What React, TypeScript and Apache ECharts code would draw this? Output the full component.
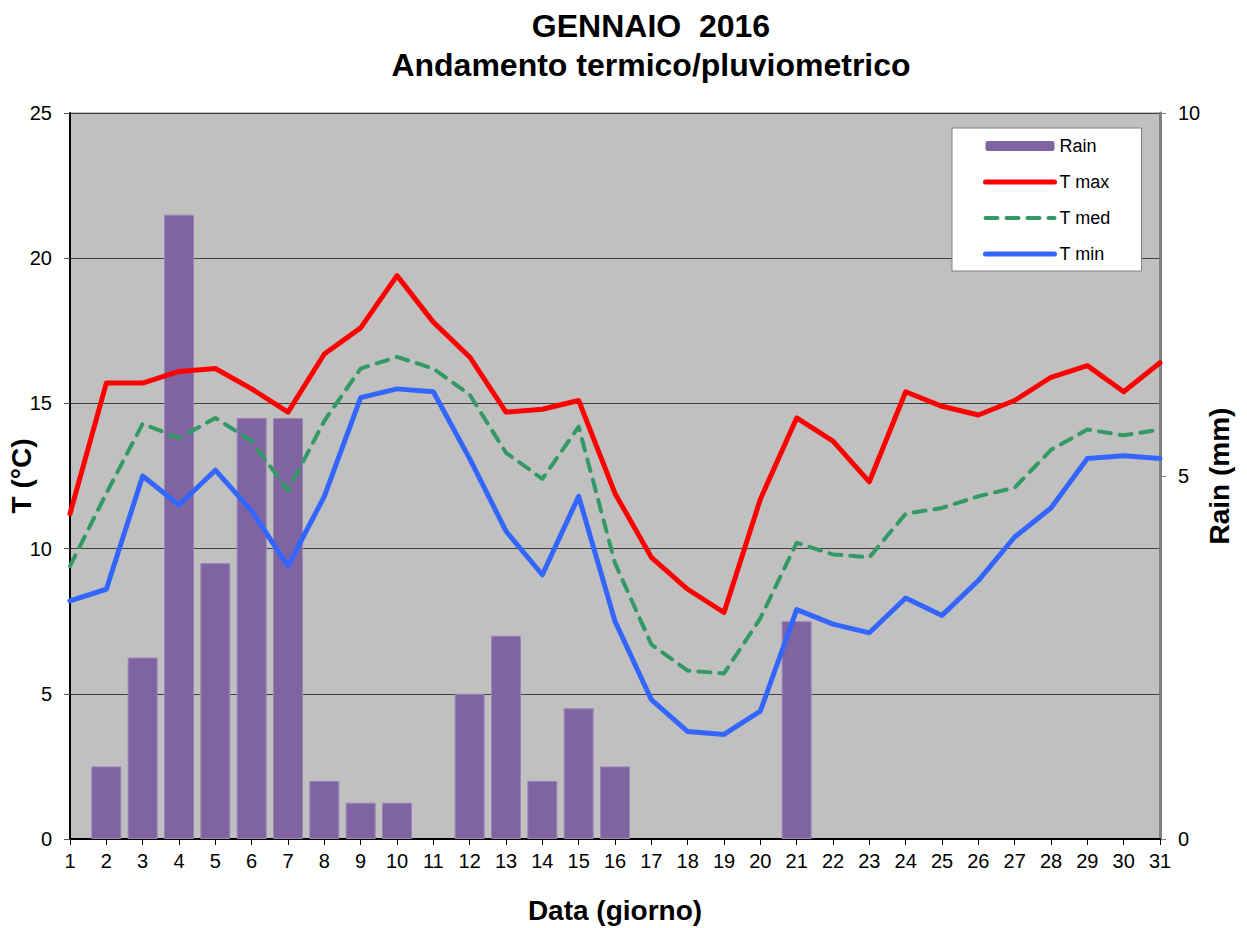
import React, { useEffect, useRef } from "react";
import * as echarts from "echarts";

const days = [1,2,3,4,5,6,7,8,9,10,11,12,13,14,15,16,17,18,19,20,21,22,23,24,25,26,27,28,29,30,31];
const rain = [null,1.0,2.5,8.6,3.8,5.8,5.8,0.8,0.5,0.5,null,2.0,2.8,0.8,1.8,1.0,null,null,null,null,3.0,null,null,null,null,null,null,null,null,null,null];
const tMax = [11.2,15.7,15.7,16.1,16.2,15.5,14.7,16.7,17.6,19.4,17.8,16.6,14.7,14.8,15.1,11.9,9.7,8.6,7.8,11.7,14.5,13.7,12.3,15.4,14.9,14.6,15.1,15.9,16.3,15.4,16.4];
const tMed = [9.4,11.9,14.3,13.8,14.5,13.7,12.0,14.4,16.2,16.6,16.2,15.3,13.3,12.4,14.2,9.5,6.7,5.8,5.7,7.6,10.2,9.8,9.7,11.2,11.4,11.8,12.1,13.4,14.1,13.9,14.1];
const tMin = [8.2,8.6,12.5,11.5,12.7,11.3,9.4,11.8,15.2,15.5,15.4,13.1,10.6,9.1,11.8,7.5,4.8,3.7,3.6,4.4,7.9,7.4,7.1,8.3,7.7,8.9,10.4,11.4,13.1,13.2,13.1];

const FONT = "Liberation Sans, Arial, sans-serif";

export default function App() {
  const ref = useRef<HTMLDivElement>(null);
  useEffect(() => {
    const chart = echarts.init(ref.current!, null, { renderer: "svg" });
    const pair = (arr: (number | null)[]) => days.map((d, i) => [d, arr[i] === null ? "-" : arr[i]]);
    chart.setOption({
      animation: false,
      backgroundColor: "#ffffff",
      textStyle: { fontFamily: FONT },
      graphic: [
        {
          type: "text", x: 651, y: 26,
          style: { text: "GENNAIO  2016", textAlign: "center", textVerticalAlign: "middle", fontSize: 32, fontWeight: "bold", fontFamily: FONT, fill: "#000" },
        },
        {
          type: "text", x: 651, y: 65,
          style: { text: "Andamento termico/pluviometrico", textAlign: "center", textVerticalAlign: "middle", fontSize: 32, fontWeight: "bold", fontFamily: FONT, fill: "#000" },
        },
      ],
      grid: {
        left: 70, right: 87, top: 113, bottom: 89,
        outerBoundsMode: "none",
        containLabel: false,
        show: true, backgroundColor: "#C0C0C0", borderColor: "#808080", borderWidth: 1,
      },
      legend: {
        orient: "vertical",
        left: 952, top: 128,
        padding: [9, 31, 8, 31],
        backgroundColor: "#ffffff",
        borderColor: "#808080",
        borderWidth: 1,
        itemWidth: 69,
        itemHeight: 10,
        itemGap: 18,
        textStyle: { fontSize: 18, color: "#000", fontFamily: FONT },
        lineStyle: { width: 5 },
        data: [
          { name: "Rain", itemStyle: { borderWidth: 0 } },
          { name: "T max", itemStyle: { opacity: 0 }, lineStyle: { width: 5, cap: "round" } },
          { name: "T med", itemStyle: { opacity: 0 }, lineStyle: { width: 4, cap: "round" } },
          { name: "T min", itemStyle: { opacity: 0 }, lineStyle: { width: 5, cap: "round" } },
        ],
      },
      xAxis: {
        type: "value", min: 1, max: 31, interval: 1,
        name: "Data (giorno)", nameLocation: "middle", nameGap: 57, nameMoveOverlap: false,
        nameTextStyle: { fontSize: 28, fontWeight: "bold", color: "#000" },
        axisLine: { show: true, lineStyle: { color: "#000", width: 2 } },
        axisTick: { show: true, length: 6, lineStyle: { color: "#000" } },
        axisLabel: { fontSize: 20, color: "#000", margin: 12 },
        splitLine: { show: false },
      },
      yAxis: [
        {
          type: "value", min: 0, max: 25, interval: 5,
          name: "T (°C)", nameLocation: "middle", nameGap: 35, nameRotate: 90, nameMoveOverlap: false,
          nameTextStyle: { fontSize: 28, fontWeight: "bold", color: "#000" },
          axisLine: { show: true, lineStyle: { color: "#000", width: 2 } },
          axisTick: { show: true, length: 6, lineStyle: { color: "#555" } },
          axisLabel: { fontSize: 20, color: "#000", margin: 18 },
          splitLine: { show: true, lineStyle: { color: "#404040", width: 1 } },
        },
        {
          type: "value", min: 0, max: 10, interval: 5, position: "right",
          name: "Rain (mm)", nameLocation: "middle", nameGap: 45, nameRotate: 90, nameMoveOverlap: false,
          nameTextStyle: { fontSize: 28, fontWeight: "bold", color: "#000" },
          axisLine: { show: true, lineStyle: { color: "#808080", width: 3 } },
          axisTick: { show: true, length: 6, lineStyle: { color: "#808080" } },
          axisLabel: { fontSize: 20, color: "#000", margin: 18 },
          splitLine: { show: false },
        },
      ],
      series: [
        {
          name: "Rain", type: "bar", yAxisIndex: 1, barWidth: 30,
          itemStyle: { color: "#8064A2", borderColor: "#9A86B8", borderWidth: 1 },
          data: pair(rain),
        },
        {
          name: "T max", type: "line", yAxisIndex: 0, showSymbol: false, symbol: "none",
          lineStyle: { color: "#FF0000", width: 5, join: "round", cap: "round" },
          itemStyle: { color: "#FF0000" },
          data: pair(tMax),
        },
        {
          name: "T med", type: "line", yAxisIndex: 0, showSymbol: false, symbol: "none",
          lineStyle: { color: "#339966", width: 4, type: [12, 9], join: "round", cap: "round" },
          itemStyle: { color: "#339966" },
          data: pair(tMed),
        },
        {
          name: "T min", type: "line", yAxisIndex: 0, showSymbol: false, symbol: "none",
          lineStyle: { color: "#3366FF", width: 5, join: "round", cap: "round" },
          itemStyle: { color: "#3366FF" },
          data: pair(tMin),
        },
      ],
    });
    return () => chart.dispose();
  }, []);
  return <div ref={ref} style={{ position: "fixed", left: 0, top: 0, width: 1247, height: 928 }} />;
}
